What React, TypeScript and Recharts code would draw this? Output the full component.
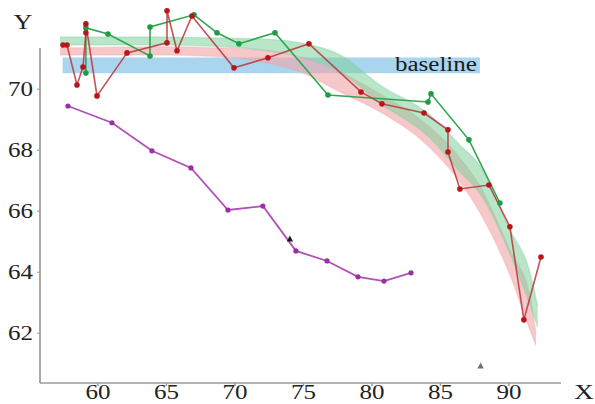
import React from "react";
import {
  ComposedChart,
  Line,
  Area,
  Scatter,
  XAxis,
  YAxis,
  ReferenceArea,
  ReferenceLine,
} from "recharts";

// ---- axis ----
const xTicks = [60, 65, 70, 75, 80, 85, 90];
const yTicks = [62, 64, 66, 68, 70];
const xDomain = [55.77, 93.8];
const yDomain = [60.37, 72.76];
const yAxisTop = 71.35;

// ---- series ----
const redX = [57.45, 57.74, 58.47, 58.91, 59.12, 59.12, 59.93, 62.12, 65.04, 65.04, 65.77, 66.86, 69.93, 72.41, 75.4, 79.2, 80.73, 83.8, 85.55, 85.55, 86.42, 88.54, 90.07, 91.09, 92.34];
const redY = [71.45, 71.45, 70.14, 70.73, 71.85, 72.14, 69.78, 71.19, 71.52, 72.57, 71.26, 72.4, 70.7, 71.03, 71.49, 69.91, 69.52, 69.22, 68.67, 67.94, 66.73, 66.86, 65.49, 62.44, 64.5];

const greenX = [59.12, 59.12, 60.73, 63.8, 63.8, 67.01, 68.69, 70.29, 72.92, 76.79, 84.09, 84.31, 87.08, 89.34];
const greenY = [70.53, 72.01, 71.81, 71.09, 72.04, 72.44, 71.85, 71.49, 71.85, 69.81, 69.58, 69.85, 68.34, 66.27];

const purpleX = [57.81, 61.02, 63.94, 66.79, 69.49, 72.04, 74.45, 76.72, 78.98, 80.88, 82.85];
const purpleY = [69.45, 68.9, 67.98, 67.42, 66.04, 66.17, 64.7, 64.37, 63.85, 63.71, 63.98];

// ribbons (fitted bands)
const gBandX = [57.23, 60.15, 64.53, 68.91, 71.82, 74.74, 77.66, 80.58, 84.23, 86.42, 87.88, 90.07, 91.53, 92.1];
const gBandHi = [71.71, 71.71, 71.71, 71.68, 71.65, 71.52, 71.13, 70.14, 69.16, 68.17, 67.49, 65.39, 64.01, 62.9];
const gBandLo = [71.45, 71.45, 71.45, 71.39, 71.29, 71.06, 70.57, 69.55, 68.4, 67.29, 66.58, 64.61, 62.93, 62.2];

const rBandX = [57.23, 64.53, 68.91, 71.82, 74.74, 77.66, 80.58, 84.23, 86.42, 87.88, 90.07, 91.53, 91.97];
const rBandHi = [71.35, 71.39, 71.35, 71.29, 71.06, 70.57, 69.85, 68.76, 67.75, 66.83, 64.73, 63.22, 62.0];
const rBandLo = [71.12, 71.12, 71.06, 70.9, 70.57, 69.91, 69.26, 68.08, 66.96, 65.96, 63.91, 62.11, 61.6];

// baseline band
const baselineX = [57.42, 87.88];
const baselineY = [70.52, 71.04];
const baselineLabel = "baseline";

// single markers
const blackMark = [{ x: 74.01, y: 65.09 }];
const grayMark = [{ x: 87.93, y: 60.93 }];

const zip = (xs: number[], ys: number[]) => xs.map((x, i) => ({ x, y: ys[i] }));
const band = (xs: number[], lo: number[], hi: number[]) =>
  xs.map((x, i) => ({ x, range: [lo[i], hi[i]] }));

const redData = zip(redX, redY);
const greenData = zip(greenX, greenY);
const purpleData = zip(purpleX, purpleY);
const gBand = band(gBandX, gBandLo, gBandHi);
const rBand = band(rBandX, rBandLo, rBandHi);

const FONT = "'Liberation Serif', 'Times New Roman', serif";
const SX = 1.25;

const stretch = (x: number, y: number) =>
  `translate(${x} ${y}) scale(${SX} 1) translate(${-x} ${-y})`;

const XTick = (props: any) => {
  const { x, y, payload } = props;
  const by = y + 11;
  return (
    <text x={x} y={by} textAnchor="middle" fontFamily={FONT} fontSize={20} fill="#222" transform={stretch(x, by)}>
      {payload.value}
    </text>
  );
};

const YTick = (props: any) => {
  const { x, y, payload } = props;
  const by = y + 7;
  return (
    <text x={x} y={by} textAnchor="end" fontFamily={FONT} fontSize={20} fill="#222" transform={stretch(x, by)}>
      {payload.value}
    </text>
  );
};

const Tri = (color: string) => (props: any) => {
  const { cx, cy } = props;
  return (
    <polygon
      points={`${cx},${cy - 3.5} ${cx - 3.2},${cy + 2.5} ${cx + 3.2},${cy + 2.5}`}
      fill={color}
    />
  );
};

export default function App() {
  return (
    <div style={{ position: "absolute", left: 0, top: 0, width: 595, height: 404, background: "#fff" }}>
      <ComposedChart width={595} height={404} margin={{ top: 5, right: 34, bottom: 0, left: 0 }}>
        <XAxis
          type="number"
          dataKey="x"
          domain={xDomain}
          ticks={xTicks}
          allowDataOverflow
          height={21}
          tickSize={3}
          tickMargin={2}
          stroke="#9a9a9a"
          strokeWidth={1.5}
          tick={<XTick />}
          label={{
            content: () => (
              <text x={584} y={399} textAnchor="middle" fontFamily={FONT} fontSize={22} fill="#222" transform={stretch(584, 399)}>
                X
              </text>
            ),
          }}
        />
        <YAxis
          type="number"
          domain={yDomain}
          ticks={yTicks}
          allowDataOverflow
          width={40}
          axisLine={false}
          tickSize={3}
          tickMargin={4}
          stroke="#9a9a9a"
          tick={<YTick />}
          label={{
            content: () => (
              <text x={23} y={29} textAnchor="middle" fontFamily={FONT} fontSize={21} fill="#222" transform={stretch(23, 29)}>
                Y
              </text>
            ),
          }}
        />
        <ReferenceLine
          segment={[
            { x: xDomain[0], y: yDomain[0] },
            { x: xDomain[0], y: yAxisTop },
          ]}
          stroke="#a8a8a8"
          strokeWidth={2}
        />
        <ReferenceArea
          x1={baselineX[0]}
          x2={baselineX[1]}
          y1={baselineY[0]}
          y2={baselineY[1]}
          fill="#8cc8e8"
          fillOpacity={0.75}
          stroke="none"
          label={{
            content: (p: any) => {
              const vb = p.viewBox;
              const tx = vb.x + vb.width - 3;
              const ty = vb.y + vb.height - 2;
              return (
                <text x={tx} y={ty} textAnchor="end" fontFamily={FONT} fontSize={20} fill="#1a1a1a" transform={stretch(tx, ty)}>
                  {baselineLabel}
                </text>
              );
            },
          }}
        />
        <Area
          data={rBand}
          dataKey="range"
          type="monotone"
          fill="#f2a3a6"
          fillOpacity={0.6}
          stroke="#f2a3a6"
          strokeOpacity={0.3}
          strokeWidth={1.5}
          dot={false}
          activeDot={false}
          isAnimationActive={false}
        />
        <Area
          data={gBand}
          dataKey="range"
          type="monotone"
          fill="#7fcf9c"
          fillOpacity={0.55}
          stroke="#7fcf9c"
          strokeOpacity={0.3}
          strokeWidth={1.5}
          dot={false}
          activeDot={false}
          isAnimationActive={false}
        />
        <Line
          data={purpleData}
          dataKey="y"
          type="linear"
          stroke="#b050b8"
          strokeWidth={1.8}
          dot={{ r: 2.6, fill: "#9a2fa6", stroke: "none" }}
          activeDot={false}
          isAnimationActive={false}
        />
        <Line
          data={greenData}
          dataKey="y"
          type="linear"
          stroke="#30a650"
          strokeWidth={1.6}
          dot={{ r: 2.8, fill: "#1f9a45", stroke: "none" }}
          activeDot={false}
          isAnimationActive={false}
        />
        <Line
          data={redData}
          dataKey="y"
          type="linear"
          stroke="#b8353a"
          strokeOpacity={0.85}
          strokeWidth={1.6}
          dot={{ r: 2.8, fill: "#b8161c", stroke: "none" }}
          activeDot={false}
          isAnimationActive={false}
        />
        <Scatter data={blackMark} dataKey="y" shape={Tri("#1a1a1a")} isAnimationActive={false} />
        <Scatter data={grayMark} dataKey="y" shape={Tri("#707070")} isAnimationActive={false} />
      </ComposedChart>
    </div>
  );
}
